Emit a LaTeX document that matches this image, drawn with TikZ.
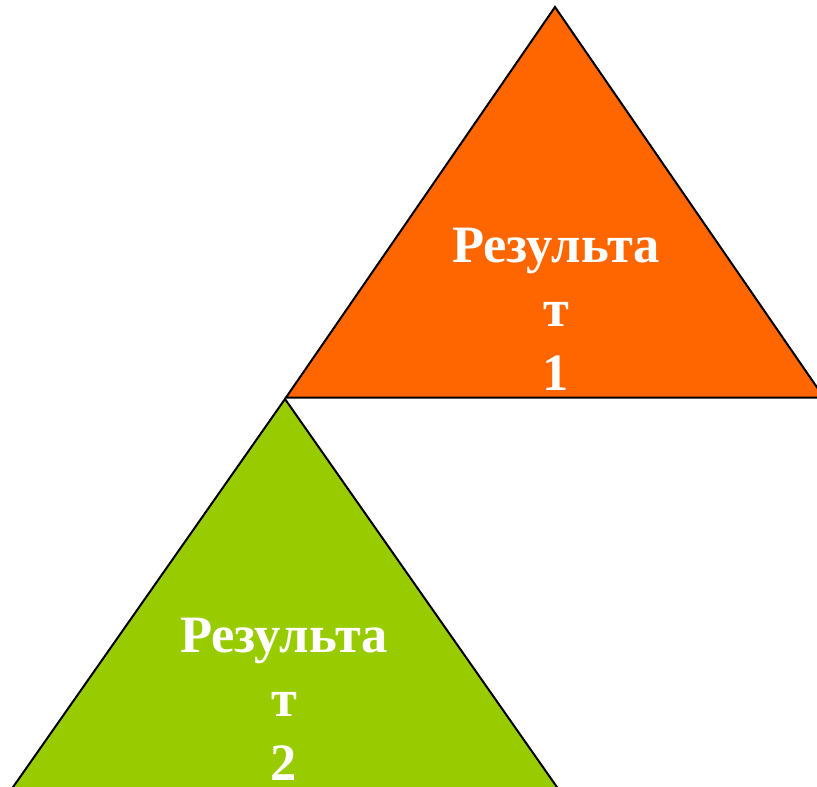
\documentclass[tikz,border=0pt]{standalone}
\usepackage{fontspec}
\setmainfont{Liberation Serif}
\usepackage{tikz}
\definecolor{resorange}{HTML}{FF6600}
\definecolor{resgreen}{HTML}{99CC00}
\tikzstyle{tri} = [draw=black, line width=2pt, line join=miter]
\tikzstyle{label} = [text=white, font=\fontsize{52.5}{64}\selectfont\bfseries, align=center, inner sep=0pt, anchor=base]

\begin{document}
\begin{tikzpicture}[x=1pt, y=-1pt]

\useasboundingbox (0,0) rectangle (817,787);

\coordinate (topA) at (555,7);
\coordinate (topL) at (286,397.5);
\coordinate (topR) at (824,397.5);
\coordinate (botA) at (285,399);
\coordinate (botL) at (11,790);
\coordinate (botR) at (559,790);

\draw [tri, fill=resorange] (topA) -- (topL) -- (topR) -- cycle;
\draw [tri, fill=resgreen]  (botA) -- (botL) -- (botR) -- cycle;

\node(res1) [label] at (556,390) {Результа\\т\\1};
\node(res2) [label] at (284,780) {Результа\\т\\2};

\end{tikzpicture}
\end{document}
